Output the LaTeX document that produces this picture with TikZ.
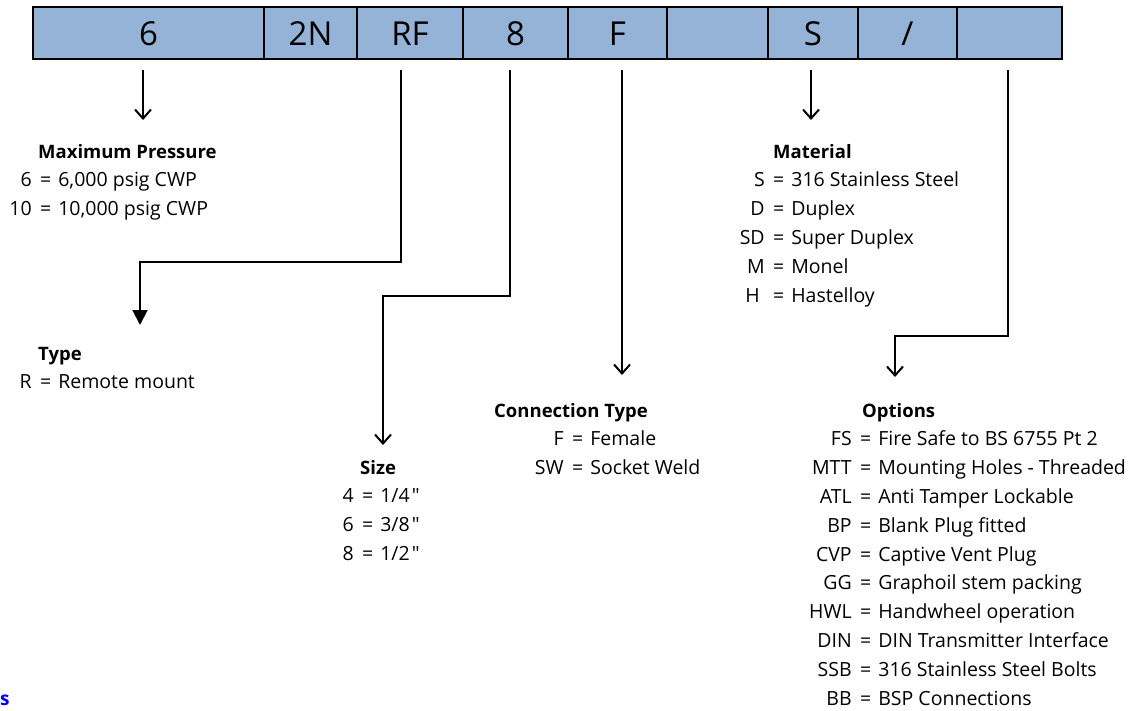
\documentclass[tikz,border=0pt]{standalone}
\usepackage{fontspec}
\setmainfont{Open Sans}[Ligatures=TeXOff]
\usetikzlibrary{arrows.meta, positioning}
\definecolor{barblue}{RGB}{149,179,215}
\newcommand{\cd}[1]{\makebox[40pt][r]{#1\hspace{8.5pt}}=\hspace{7pt}}
\newcommand{\hd}[1]{{\fontsize{18.5}{28.8}\selectfont\bfseries #1}}

\begin{document}
\begin{tikzpicture}[x=1pt, y=-1pt,
    cell/.style = {draw, fill=barblue, line width=2.5pt,
                minimum height=52pt, inner sep=0pt, outer sep=0pt,
                text height=24pt, text depth=0pt,
                font=\fontsize{33}{36}\selectfont},
    lst/.style = {anchor=base west, inner sep=0pt,
                font=\fontsize{19.5}{28.8}\selectfont},
    lead/.style = {line width=2pt, -{Straight Barb[length=9pt, width=16pt]}},
    leadf/.style = {line width=2pt, -{Triangle[length=15pt, width=15pt]}}
                    ]
\useasboundingbox (0,0) rectangle (1130,710);

% the code bar
\node (c1) [cell, minimum width=231pt] at (148.5,33) {6};
\node (c2) [cell, minimum width=93pt, right=0pt of c1]  {2N};
\node (c3) [cell, minimum width=106pt, right=0pt of c2] {RF};
\node (c4) [cell, minimum width=105pt, right=0pt of c3] {8};
\node (c5) [cell, minimum width=99pt, right=0pt of c4]  {F};
\node (c6) [cell, minimum width=101pt, right=0pt of c5] {};
\node (c7) [cell, minimum width=90pt, right=0pt of c6]  {S};
\node (c8) [cell, minimum width=99pt, right=0pt of c7]  {/};
\node (c9) [cell, minimum width=105pt, right=0pt of c8] {};

% legends
\node (mp) [lst] at (0,158) {\begin{tabular}[t]{@{}l@{}}
    \hspace*{38pt}\hd{Maximum Pressure}\\
    \cd{6}6,000 psig CWP\\
    \cd{10}10,000 psig CWP
    \end{tabular}};
\node (ty) [lst] at (0,360) {\begin{tabular}[t]{@{}l@{}}
    \hspace*{38pt}\hd{Type}\\
    \cd{R}Remote mount
    \end{tabular}};
\node (sz) [lst] at (322,474) {\begin{tabular}[t]{@{}l@{}}
    \hspace*{38pt}\hd{Size}\\
    \cd{4}1/4\kern2pt"\\
    \cd{6}3/8\kern2pt"\\
    \cd{8}1/2\kern2pt"
    \end{tabular}};
\node (ct) [lst] at (532,417) {\begin{tabular}[t]{@{}l@{}}
    \hspace*{-38pt}\hd{Connection Type}\\
    \cd{F}Female\\
    \cd{SW}Socket Weld
    \end{tabular}};
\node (mt) [lst] at (733,158) {\begin{tabular}[t]{@{}l@{}}
    \hspace*{40pt}\hd{Material}\\
    \cd{S}316 Stainless Steel\\
    \cd{D}Duplex\\
    \cd{SD}Super Duplex\\
    \cd{M}Monel\\
    \cd{H\ }Hastelloy
    \end{tabular}};
\node (op) [lst] at (820,417) {\begin{tabular}[t]{@{}l@{}}
    \hspace*{42pt}\hd{Options}\\
    \cd{FS}Fire Safe to BS 6755 Pt 2\\
    \cd{MTT}Mounting Holes - Threaded\\
    \cd{ATL}Anti Tamper Lockable\\
    \cd{BP}Blank Plug fitted\\
    \cd{CVP}Captive Vent Plug\\
    \cd{GG}Graphoil stem packing\\
    \cd{HWL}Handwheel operation\\
    \cd{DIN}DIN Transmitter Interface\\
    \cd{SSB}316 Stainless Steel Bolts\\
    \cd{BB}BSP Connections
    \end{tabular}};
\node (bs) [anchor=base west, inner sep=0pt, text=blue,
    font=\fontsize{19}{20}\selectfont\bfseries] at (0,705) {s};

% leaders
\coordinate (s1) at (143,70);   \coordinate (e1) at (143,120);
\coordinate (s2) at (401,70);   \coordinate (k2) at (140,262);
\coordinate (e2) at (140,325);
\coordinate (s3) at (510,70);   \coordinate (k3) at (383,296);
\coordinate (e3) at (383,445);
\coordinate (s4) at (622,70);   \coordinate (e4) at (622,375);
\coordinate (s5) at (811,70);   \coordinate (e5) at (811,120);
\coordinate (s6) at (1008,70);  \coordinate (k6) at (895,336);
\coordinate (e6) at (895,377);

\draw[lead] (s1) -- (e1);
\draw[leadf] (s2) |- (k2) -- (e2);
\draw[lead] (s3) |- (k3) -- (e3);
\draw[lead] (s4) -- (e4);
\draw[lead] (s5) -- (e5);
\draw[lead] (s6) |- (k6) -- (e6);

\end{tikzpicture}
\end{document}
